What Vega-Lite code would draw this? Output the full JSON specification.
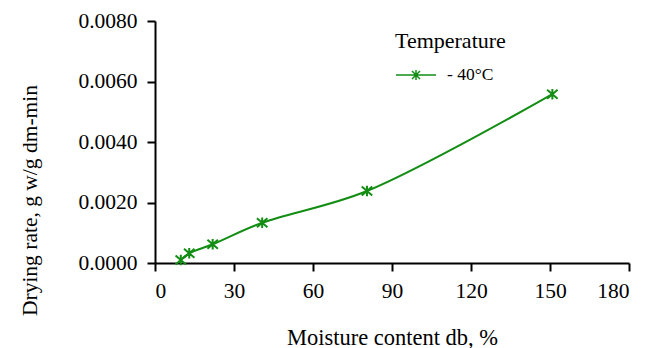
{
  "$schema": "https://vega.github.io/schema/vega-lite/v6.json",
  "width": 474,
  "height": 242,
  "autosize": {"type": "none"},
  "padding": {"left": 155, "top": 21, "right": 27, "bottom": 85},
  "background": "white",
  "config": {
    "view": {"stroke": null},
    "font": "Liberation Serif",
    "axis": {
      "labelFont": "Liberation Serif",
      "titleFont": "Liberation Serif",
      "labelColor": "black",
      "titleColor": "black",
      "domainColor": "black",
      "tickColor": "black",
      "domainWidth": 2,
      "tickWidth": 2,
      "grid": false,
      "titleFontWeight": "normal",
      "labelFontSize": 21.5
    },
    "legend": {
      "labelFont": "Liberation Serif",
      "titleFont": "Liberation Serif",
      "titleFontWeight": "normal"
    }
  },
  "data": {
    "values": [
      {"moisture": 9.8, "rate": 0.0001, "series": "- 40°C"},
      {"moisture": 13.0, "rate": 0.00032, "series": "- 40°C"},
      {"moisture": 21.9, "rate": 0.00062, "series": "- 40°C"},
      {"moisture": 40.7, "rate": 0.00133, "series": "- 40°C"},
      {"moisture": 80.5, "rate": 0.00238, "series": "- 40°C"},
      {"moisture": 150.9, "rate": 0.00558, "series": "- 40°C"}
    ]
  },
  "encoding": {
    "x": {
      "field": "moisture",
      "type": "quantitative",
      "scale": {"domain": [0, 180], "nice": false, "zero": true},
      "axis": {
        "values": [0, 30, 60, 90, 120, 150, 180],
        "title": "Moisture content db, %",
        "titleFontSize": 22.5,
        "tickSize": 8,
        "labelPadding": 9,
        "titleY": 74,
        "titleBaseline": "middle"
      }
    },
    "y": {
      "field": "rate",
      "type": "quantitative",
      "scale": {"domain": [0, 0.008], "nice": false},
      "axis": {
        "values": [0, 0.002, 0.004, 0.006, 0.008],
        "format": ".4f",
        "title": "Drying rate, g w/g dm-min",
        "titleFontSize": 21.5,
        "tickSize": 8,
        "labelPadding": 10,
        "titleX": -125,
        "titleY": 179,
        "titleAlign": "center",
        "titleBaseline": "middle",
        "titleAngle": -90
      }
    }
  },
  "layer": [
    {
      "mark": {"type": "line", "interpolate": "catmull-rom", "strokeWidth": 2, "color": "#138d13"},
      "encoding": {
        "color": {
          "field": "series",
          "type": "nominal",
          "scale": {"range": ["#138d13"]},
          "legend": {
            "title": "Temperature",
            "orient": "none",
            "legendX": 240,
            "legendY": 10,
            "titleFontSize": 22,
            "labelFontSize": 17.5,
            "titleColor": "black",
            "labelColor": "black",
            "symbolType": "M-2,0L2,0M-0.4,-0.4L0.4,0.4M-0.4,0.4L0.4,-0.4M0,-0.5L0,0.5",
            "symbolSize": 400,
            "symbolStrokeWidth": 1.5,
            "symbolOffset": 10,
            "labelOffset": 20,
            "titlePadding": 11
          }
        }
      }
    },
    {
      "mark": {
        "type": "point",
        "shape": "M-1,-0.85L1,0.85M-1,0.85L1,-0.85M0,-1L0,1",
        "filled": false,
        "size": 110,
        "strokeWidth": 2,
        "color": "#138d13",
        "opacity": 1
      }
    }
  ]
}
